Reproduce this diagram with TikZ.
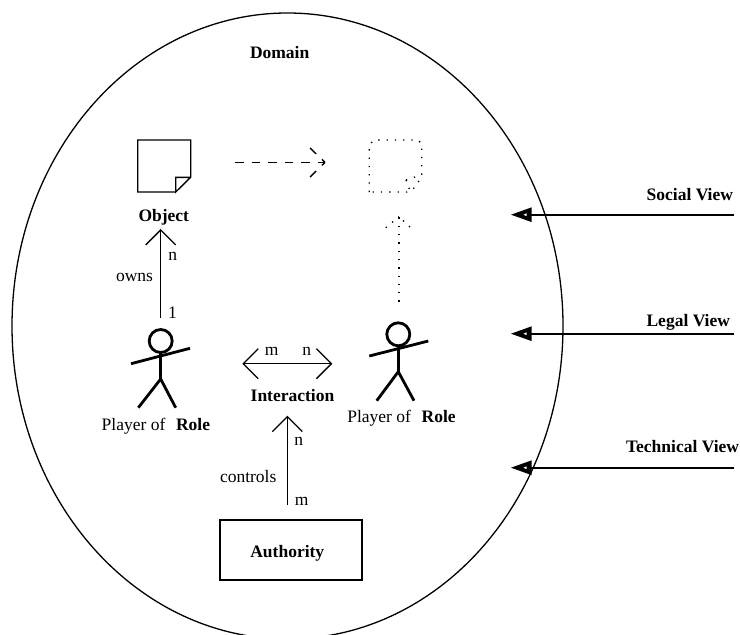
\documentclass[tikz,border=0pt]{standalone}
\usepackage{fontspec}
\setmainfont{Liberation Serif}
\usetikzlibrary{arrows.meta,shapes.geometric}
\tikzset{
  txt/.style={anchor=base west,inner sep=0pt,outer sep=0pt,font=\fontsize{17.5}{20}\selectfont},
  btxt/.style={txt,font=\fontsize{17.5}{20}\selectfont\bfseries},
  ctxt/.style={txt,anchor=base},
  thin line/.style={line width=1.3pt},
  barb/.style={thin line,-{Straight Barb[length=15pt,width=30pt,line width=1.3pt]}},
  barbs/.style={thin line,{Straight Barb[length=15pt,width=30pt,line width=1.3pt]}-{Straight Barb[length=15pt,width=30pt,line width=1.3pt]}},
  dashline/.style={line width=1.4pt,dash pattern=on 8.5pt off 8pt},
  dotline/.style={line width=1.3pt,dash pattern=on 1.3pt off 7pt},
  icon/.style={line width=1.4pt,line join=miter},
  stick/.style={line width=2.8pt},
  viewline/.style={line width=1.6pt},
}
\begin{document}
\begin{tikzpicture}[x=1pt,y=-1pt]
\useasboundingbox (0,0) rectangle (740,635);
\fill[white] (0,0) rectangle (740,635);
% domain
\node[ellipse,draw,thin line,inner sep=0pt,minimum width=551pt,minimum height=626pt] (domainE) at (287.5,326) {};
\node[btxt] (domain) at (250,58) {Domain};
% object icon
\draw[icon] (175.7,192) -- (137.7,192) -- (137.7,140) -- (190.7,140) -- (190.7,177.3) -- (175.7,192) -- (175.7,177.3) -- (190.7,177.3);
\node[btxt] (object) at (138.5,221.7) {Object};
% ghost icon
\draw[dotline] (369.3,192) -- (369.3,145) -- (374,140) -- (418,140) -- (421.7,144) -- (421.7,177) -- (414,188) -- (407,192) -- cycle;
\draw[dotline] (406,180) -- (421,175);
\draw[dotline] (406,180) -- (410,191);
% dashed arrow
\coordinate (da) at (235,162.3);
\coordinate (db) at (325,162.3);
\coordinate (db1) at (310,148);
\coordinate (db2) at (310,177);
\draw[dashline] (da) -- (db);
\draw[dashline] (db1) -- (db);
\draw[dashline] (db2) -- (db);
% dotted arrow
\coordinate (ea) at (399,301.7);
\coordinate (eb) at (399,216.7);
\coordinate (eb1) at (385.7,227.7);
\coordinate (eb2) at (410,227);
\draw[dotline] (ea) -- (eb);
\draw[dotline] (eb1) -- (eb);
\draw[dotline] (eb2) -- (eb);
% owns
\coordinate (oa) at (160.7,318);
\coordinate (ob) at (160.7,229);
\draw[barb] (oa) -- (ob);
\node[ctxt] (ln) at (172.7,260) {n};
\node[txt] (lowns) at (116,281.7) {owns};
\node[ctxt] (l1) at (172.5,318) {1};
% stick 1
\draw[stick] (160.7,341) circle[radius=11.5pt];
\draw[stick] (131,363.7) -- (190,348.3);
\draw[stick] (160.7,352.5) -- (160.7,379);
\draw[stick] (138.3,407.7) -- (160.7,379) -- (175.7,407.7);
\node[txt] (p1) at (101.7,430.7) {Player of};
\node[btxt] (r1) at (176,430.7) {Role};
% stick 2
\draw[stick] (398.3,334.3) circle[radius=11.5pt];
\draw[stick] (369.3,356) -- (428.3,341);
\draw[stick] (398.3,346) -- (398.3,371.7);
\draw[stick] (376.7,400.7) -- (398.3,371.7) -- (414,400.7);
\node[txt] (p2) at (347.3,422.3) {Player of};
\node[btxt] (r2) at (421.7,422.3) {Role};
% interaction
\coordinate (ia) at (242.3,363.7);
\coordinate (ib) at (332.3,363.7);
\draw[barbs] (ia) -- (ib);
\node[ctxt] (lm) at (271.7,355.7) {m};
\node[ctxt] (lnn) at (306.7,355.7) {n};
\node[btxt] (inter) at (250.7,401) {Interaction};
% controls
\coordinate (ca) at (287.3,505);
\coordinate (cb) at (287.3,415.7);
\draw[barb] (ca) -- (cb);
\node[ctxt] (cn) at (298.7,445.7) {n};
\node[txt] (lc) at (220,482.7) {controls};
\node[ctxt] (cm) at (301.7,505) {m};
% authority
\node[draw,line width=1.2pt,inner sep=0pt,minimum width=142pt,minimum height=60pt] (authbox) at (291,550) {};
\node[ctxt,font=\fontsize{17.5}{20}\selectfont\bfseries] (auth) at (287.3,557.7) {Authority};
% views
\foreach \n/\y in {s/214.7,l/333.7,t/467.7}{
  \coordinate (\n a) at (734.3,\y);
  \coordinate (\n b) at (531,\y);
  \draw[viewline] (\n a) -- (\n b);
  \fill (511,\y) -- (531.7,\y-7.4) -- (531.7,\y+7.4) -- cycle;
  \fill[white] (523.5,\y) -- (526.5,\y-1.4) -- (526.5,\y+1.4) -- cycle;
}
\node[btxt,anchor=base east] (sv) at (733,200) {Social View};
\node[btxt,anchor=base east] (lv) at (730,326.7) {Legal View};
\node[btxt,anchor=base east] (tv) at (739,452.7) {Technical View};
\end{tikzpicture}
\end{document}
